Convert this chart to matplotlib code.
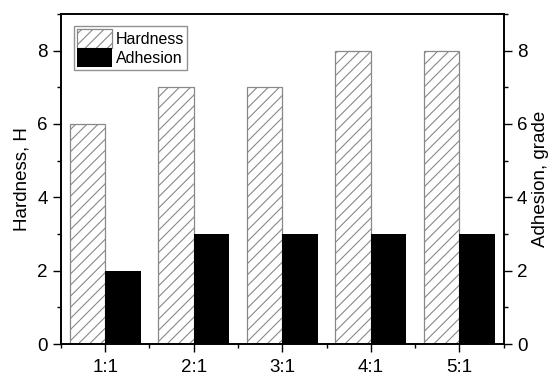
import matplotlib.pyplot as plt
import numpy as np
from matplotlib.ticker import MultipleLocator

plt.rcParams['font.family'] = ['Liberation Sans', 'DejaVu Sans']
plt.rcParams['hatch.color'] = '#888888'
plt.rcParams['hatch.linewidth'] = 0.8

ratios = ['1:1', '2:1', '3:1', '4:1', '5:1']
hardness = [6, 7, 7, 8, 8]
adhesion = [2, 3, 3, 3, 3]

x = np.arange(1, len(ratios) + 1)
w = 0.4

fig = plt.figure(figsize=(5.53, 3.76), dpi=100)
ax = fig.add_axes([0.110, 0.085, 0.801, 0.878])
ax2 = ax.twinx()

b1 = ax.bar(x - w/2, hardness, w, facecolor='white', edgecolor='#888888',
            hatch='///', linewidth=0.9, label='Hardness')
b2 = ax2.bar(x + w/2, adhesion, w, color='black', label='Adhesion')

for a in (ax, ax2):
    a.set_ylim(0, 9)
    a.yaxis.set_major_locator(MultipleLocator(2))
    a.yaxis.set_minor_locator(MultipleLocator(1))
    a.tick_params(axis='y', which='major', direction='out', length=6, width=1, labelsize=13.5)
    a.tick_params(axis='y', which='minor', direction='out', length=3, width=1)
    for s in a.spines.values():
        s.set_linewidth(1.2)

ax.set_xlim(0.5, 5.5)
ax.set_xticks(x)
ax.set_xticklabels(ratios)
ax.xaxis.set_minor_locator(MultipleLocator(0.5))
ax.xaxis.set_ticks_position('bottom')
ax.tick_params(axis='x', which='major', direction='out', length=6, width=1,
               labelsize=13.5, pad=4.5)
ax.tick_params(axis='x', which='minor', direction='out', length=3, width=1)
ax2.xaxis.set_ticks_position('none')

ax.set_ylabel('Hardness, H', fontsize=13.5, labelpad=5)
ax2.set_ylabel('Adhesion, grade', fontsize=13.5, labelpad=3)

leg = ax.legend([b1, b2], ['Hardness', 'Adhesion'], loc='upper left',
                bbox_to_anchor=(0.03, 0.964), fontsize=11.5, frameon=True,
                fancybox=False, edgecolor='#777777', handlelength=2.2,
                handleheight=1.45, handletextpad=0.2, labelspacing=0.0,
                borderpad=0.2, borderaxespad=0)
leg.get_frame().set_linewidth(1.0)

fig.savefig('out.png', dpi=100)
